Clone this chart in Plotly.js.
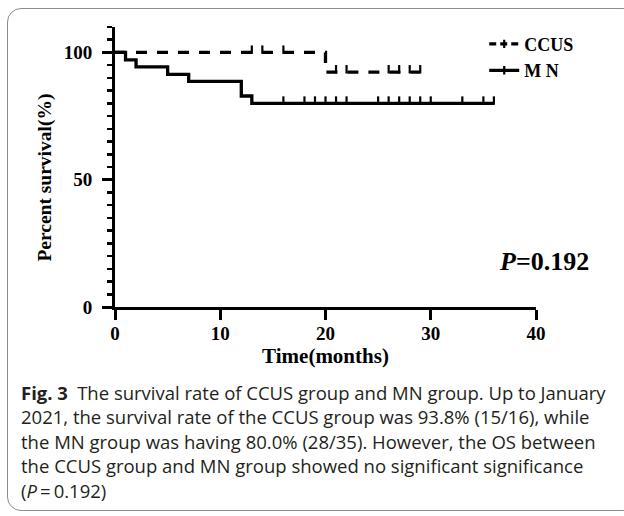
<!DOCTYPE html>
<html>
<head>
<meta charset="utf-8">
<script src="https://cdn.plot.ly/plotly-3.0.1.min.js"></script>
<style>
  html, body { margin: 0; padding: 0; background: #ffffff; }
  #frame { position: absolute; left: 7px; top: 8px; width: 630px; height: 503px;
           border: 1.5px solid #8c8c8c; border-radius: 14px; box-sizing: border-box; }
  #chart { position: absolute; left: 0; top: 0; width: 624px; height: 516px; }
</style>
</head>
<body>
<div id="frame"></div>
<div id="chart"></div>
<script>
// ---- data ----
const mnTimes = [0, 1, 2, 5, 7, 12, 13, 36];
const mnSurv  = [100, 97.1, 94.3, 91.4, 88.6, 82.9, 80.0, 80.0];
const mnCensorTimes = [16, 18, 19, 20, 21, 22, 25, 26, 27, 28, 29, 30, 33, 35, 36];

const ccusTimes = [0, 20, 29];
const ccusSurv  = [100, 92.3, 92.3];
const ccusCensorTimes = [13, 14, 16, 21, 22, 26, 27, 28, 29];

const seriesNames = ['CCUS', 'M N'];
const xTickVals = [0, 10, 20, 30, 40];
const yTickVals = [0, 50, 100];
const pValueText = '<i>P</i>=0.192';
const captionLines = [
  '<b>Fig. 3</b>\u2002The survival rate of CCUS group and MN group. Up to January',
  '2021, the survival rate of the CCUS group was 93.8% (15/16), while',
  'the MN group was having 80.0% (28/35). However, the OS between',
  'the CCUS group and MN group showed no significant significance',
  '(<i>P</i>\u2009=\u20090.192)'
];

// step-function lookup for censor marks
function survAt(times, surv, t) {
  let v = surv[0];
  for (let i = 0; i < times.length; i++) { if (times[i] <= t) v = surv[i]; }
  return v;
}
const LIFT = 1.1; // raise censor ticks so they sit on top of the line

const serif = 'Liberation Serif, Times New Roman, serif';
const black = '#000000';

// pixel geometry helpers for annotations (plot area: l=115.3, t=27.3, w=420.4, h=279.4)
const L = 115.3, T = 27.3, W = 420.4, H = 279.4;
const px = x => (x - L) / W;
const py = y => (T + H - y) / H;

const traces = [
  { x: ccusTimes, y: ccusSurv, type: 'scatter', mode: 'lines', line: { shape: 'hv', color: black, width: 3.3, dash: '11px,10px' }, showlegend: false, hoverinfo: 'skip' },
  { x: mnTimes, y: mnSurv, type: 'scatter', mode: 'lines', line: { shape: 'hv', color: black, width: 3.3 }, showlegend: false, hoverinfo: 'skip' },
  { x: ccusCensorTimes, y: ccusCensorTimes.map(t => survAt(ccusTimes, ccusSurv, t) + LIFT), type: 'scatter', mode: 'markers',
    marker: { symbol: 'line-ns-open', size: 6, color: black, line: { color: black, width: 2.2 } }, showlegend: false, hoverinfo: 'skip' },
  { x: mnCensorTimes, y: mnCensorTimes.map(t => survAt(mnTimes, mnSurv, t) + LIFT), type: 'scatter', mode: 'markers',
    marker: { symbol: 'line-ns-open', size: 6, color: black, line: { color: black, width: 2.2 } }, showlegend: false, hoverinfo: 'skip' },
  // legend entries
  { x: [null], y: [null], name: seriesNames[0], type: 'scatter', mode: 'lines+markers',
    line: { color: black, width: 3.3, dash: '7px,4px' }, marker: { symbol: 'line-ns-open', size: 6, line: { color: black, width: 2.2 } } },
  { x: [null], y: [null], name: seriesNames[1], type: 'scatter', mode: 'lines+markers',
    line: { color: black, width: 3.3 }, marker: { symbol: 'line-ns-open', size: 6, line: { color: black, width: 2.2 } } }
];

const annotations = [
  { text: 'Percent survival(%)', xref: 'paper', yref: 'paper', x: px(45), y: py(178), textangle: -90,
    showarrow: false, font: { family: serif, size: 19.5, color: black, weight: 'bold' }, xanchor: 'center', yanchor: 'middle' },
  { text: pValueText, xref: 'paper', yref: 'paper', x: px(591), y: py(261), xanchor: 'right', yanchor: 'middle',
    showarrow: false, font: { family: serif, size: 26, color: black, weight: 'bold' } }
];
const capY = [392, 416, 441, 465, 490];
captionLines.forEach((t, i) => annotations.push({
  text: t, xref: 'paper', yref: 'paper', x: px(19), y: py(capY[i]), xanchor: 'left', yanchor: 'middle',
  showarrow: false, font: { family: 'Open Sans, Noto Sans, sans-serif', size: 18.5, color: '#231f20' }
}));

const layout = {
  width: 624, height: 516,
  margin: { l: L, r: 624 - L - W, t: T, b: 516 - T - H, pad: 0 },
  paper_bgcolor: 'rgba(0,0,0,0)', plot_bgcolor: 'rgba(0,0,0,0)',
  showlegend: true,
  legend: { x: px(484), y: py(26), xanchor: 'left', yanchor: 'top', bgcolor: 'rgba(0,0,0,0)',
            font: { family: serif, size: 18, color: black, weight: 'bold' }, itemwidth: 30, tracegroupgap: 0 },
  xaxis: {
    range: [0, 40], tickvals: xTickVals, ticktext: xTickVals.map(String),
    showline: true, linecolor: black, linewidth: 3, ticks: 'outside', ticklen: 10, tickwidth: 3, tickcolor: black,
    showgrid: false, zeroline: false, fixedrange: true, ticklabelstandoff: -3,
    tickfont: { family: serif, size: 19, color: black, weight: 'bold' },
    title: { text: 'Time(months)', standoff: 0, font: { family: serif, size: 21, color: black, weight: 'bold' } }
  },
  yaxis: {
    range: [0, 110], tickvals: yTickVals, ticktext: yTickVals.map(String),
    showline: true, linecolor: black, linewidth: 3, ticks: 'outside', ticklen: 10, tickwidth: 3, tickcolor: black,
    minor: { dtick: 5, tick0: 0, ticks: 'outside', ticklen: 5, tickwidth: 2.5, tickcolor: black },
    showgrid: false, zeroline: false, fixedrange: true, ticklabelstandoff: 6,
    tickfont: { family: serif, size: 19, color: black, weight: 'bold' }
  },
  annotations: annotations
};

Plotly.newPlot('chart', traces, layout, { displayModeBar: false, staticPlot: true });
</script>
</body>
</html>
